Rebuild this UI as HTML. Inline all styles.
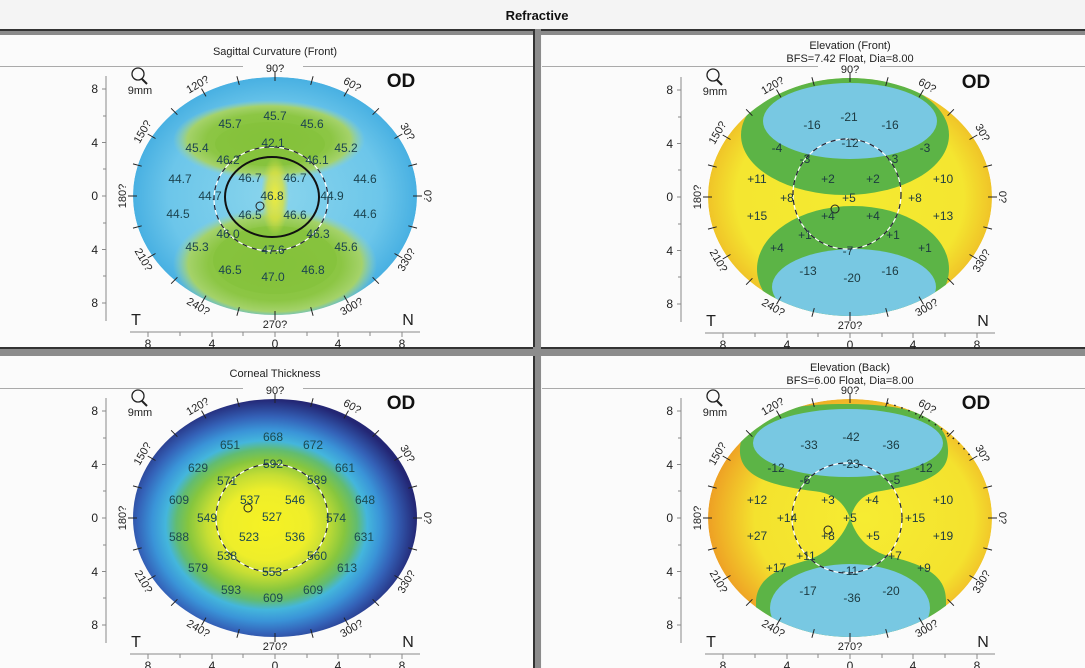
<!DOCTYPE html>
<html><head><meta charset="utf-8"><style>
html,body{margin:0;padding:0;background:#f6f6f6;}
svg{display:block;font-family:"Liberation Sans",sans-serif;}
</style></head><body>
<svg width="1085" height="668" viewBox="0 0 1085 668" xmlns="http://www.w3.org/2000/svg">
<defs>
<clipPath id="ce"><ellipse cx="0" cy="0" rx="142" ry="119"/></clipPath>
<radialGradient id="gSag" cx="0.5" cy="0.5" r="0.5">
<stop offset="0" stop-color="#8ad5ec"/><stop offset="0.75" stop-color="#6cc6ea"/><stop offset="1" stop-color="#48b0e2"/></radialGradient>
<radialGradient id="gLobe" cx="0.5" cy="0.5" r="0.5">
<stop offset="0" stop-color="#84c23a"/><stop offset="0.65" stop-color="#8cc644"/><stop offset="0.85" stop-color="#a4d26a"/><stop offset="1" stop-color="#9ad3b0" stop-opacity="0"/></radialGradient>
<radialGradient id="gYel" cx="0.5" cy="0.5" r="0.5">
<stop offset="0" stop-color="#eeec3c"/><stop offset="0.6" stop-color="#d8e040" stop-opacity="0.8"/><stop offset="1" stop-color="#c8dc48" stop-opacity="0"/></radialGradient>
<radialGradient id="gThk" cx="0.47" cy="0.53" r="0.53">
<stop offset="0" stop-color="#f6f224"/><stop offset="0.28" stop-color="#eeee2a"/><stop offset="0.4" stop-color="#c6de34"/><stop offset="0.52" stop-color="#86c63e"/><stop offset="0.6" stop-color="#62bc70"/><stop offset="0.67" stop-color="#44b6dc"/><stop offset="0.76" stop-color="#3a94d8"/><stop offset="0.86" stop-color="#3462b8"/><stop offset="1" stop-color="#232674"/></radialGradient>
<radialGradient id="gEl" cx="0.5" cy="0.5" r="0.5">
<stop offset="0" stop-color="#f4ea30"/><stop offset="0.8" stop-color="#f4e630"/><stop offset="1" stop-color="#f0c428"/></radialGradient>
<radialGradient id="gEl2" cx="0.55" cy="0.5" r="0.55">
<stop offset="0" stop-color="#f6ec32"/><stop offset="0.7" stop-color="#f4e22e"/><stop offset="1" stop-color="#eea024"/></radialGradient>
</defs>

<rect x="0" y="0" width="1085" height="29" fill="#f4f4f4"/>
<text x="537" y="20" font-size="13" font-weight="bold" text-anchor="middle" fill="#111">Refractive</text>
<rect x="0" y="29" width="1085" height="2" fill="#333"/>
<rect x="0" y="31" width="1085" height="4" fill="#8a8a8a"/>
<rect x="0" y="35" width="533" height="312" fill="#fbfbfb"/>
<rect x="542" y="35" width="543" height="312" fill="#fbfbfb"/>
<rect x="0" y="356" width="533" height="312" fill="#fbfbfb"/>
<rect x="542" y="356" width="543" height="312" fill="#fbfbfb"/>
<rect x="533" y="29" width="2" height="639" fill="#333"/>
<rect x="535" y="29" width="6" height="639" fill="#8c8c8c"/>
<rect x="0" y="347" width="1085" height="2" fill="#333"/>
<rect x="0" y="349" width="1085" height="7" fill="#8c8c8c"/>
<rect x="533" y="347" width="8" height="9" fill="#8c8c8c"/>

<g fill="#222" font-size="11" text-anchor="middle">
<text x="275" y="55">Sagittal Curvature (Front)</text>
<text x="850" y="49">Elevation (Front)</text>
<text x="850" y="62">BFS=7.42 Float, Dia=8.00</text>
<text x="275" y="377">Corneal Thickness</text>
<text x="850" y="371">Elevation (Back)</text>
<text x="850" y="384">BFS=6.00 Float, Dia=8.00</text>
</g>
<g stroke="#aaa" stroke-width="1">
<line x1="0" y1="66.5" x2="243" y2="66.5"/><line x1="303" y1="66.5" x2="533" y2="66.5"/>
<line x1="542" y1="66.5" x2="818" y2="66.5"/><line x1="880" y1="66.5" x2="1085" y2="66.5"/>
<line x1="0" y1="388.5" x2="243" y2="388.5"/><line x1="303" y1="388.5" x2="533" y2="388.5"/>
<line x1="542" y1="388.5" x2="818" y2="388.5"/><line x1="880" y1="388.5" x2="1085" y2="388.5"/>
</g>

<!-- TL -->
<g transform="translate(275,196)">
<g clip-path="url(#ce)">
<ellipse cx="0" cy="0" rx="142" ry="119" fill="url(#gSag)"/>
<ellipse cx="-6" cy="-56" rx="96" ry="40" fill="url(#gLobe)"/>
<ellipse cx="0" cy="68" rx="102" ry="56" fill="url(#gLobe)"/>
<ellipse cx="0" cy="64" rx="62" ry="34" fill="#84c23a" opacity="0.6"/>
<ellipse cx="-5" cy="-52" rx="55" ry="22" fill="#84c23a" opacity="0.6"/>
<ellipse cx="0" cy="0" rx="14" ry="40" fill="url(#gYel)"/>
</g>
<ellipse cx="-4" cy="3" rx="57" ry="52" fill="none" stroke="#fff" stroke-width="1.2"/>
<ellipse cx="-4" cy="3" rx="57" ry="52" fill="none" stroke="#223" stroke-width="1.2" stroke-dasharray="5 5"/>
<ellipse cx="-3" cy="1" rx="47" ry="40" fill="none" stroke="#111" stroke-width="2"/>
<circle cx="-15" cy="10" r="4" fill="none" stroke="#222"/>
<g font-size="12" fill="#1c4450" text-anchor="middle">
<text x="0" y="-76">45.7</text><text x="-45" y="-68">45.7</text><text x="37" y="-68">45.6</text>
<text x="-78" y="-44">45.4</text><text x="-2" y="-49">42.1</text><text x="71" y="-44">45.2</text>
<text x="-47" y="-32">46.2</text><text x="42" y="-32">46.1</text>
<text x="-95" y="-13">44.7</text><text x="-25" y="-14">46.7</text><text x="20" y="-14">46.7</text><text x="90" y="-13">44.6</text>
<text x="-65" y="4">44.7</text><text x="-3" y="4">46.8</text><text x="57" y="4">44.9</text>
<text x="-97" y="22">44.5</text><text x="-25" y="23">46.5</text><text x="20" y="23">46.6</text><text x="90" y="22">44.6</text>
<text x="-47" y="42">46.0</text><text x="43" y="42">46.3</text>
<text x="-78" y="55">45.3</text><text x="-2" y="58">47.6</text><text x="71" y="55">45.6</text>
<text x="-45" y="78">46.5</text><text x="-2" y="85">47.0</text><text x="38" y="78">46.8</text>
</g>
</g>

<!-- TR -->
<g transform="translate(850,197)">
<g clip-path="url(#ce)">
<ellipse cx="0" cy="0" rx="142" ry="119" fill="url(#gEl)"/>
<ellipse cx="-5" cy="-62" rx="104" ry="60" fill="#5cb446"/>
<ellipse cx="0" cy="-76" rx="87" ry="38" fill="#78c8e2"/>
<ellipse cx="3" cy="72" rx="96" ry="63" fill="#5cb446"/>
<ellipse cx="4" cy="90" rx="82" ry="38" fill="#78c8e2"/>
</g>
<ellipse cx="-3" cy="-3" rx="54" ry="55" fill="none" stroke="#fff" stroke-width="1.2"/>
<ellipse cx="-3" cy="-3" rx="54" ry="55" fill="none" stroke="#223" stroke-width="1.2" stroke-dasharray="5 5"/>
<circle cx="-15" cy="12" r="4" fill="none" stroke="#222"/>
<g font-size="12" fill="#1c3a40" text-anchor="middle">
<text x="-1" y="-76">-21</text><text x="-38" y="-68">-16</text><text x="40" y="-68">-16</text>
<text x="-73" y="-45">-4</text><text x="0" y="-50">-12</text><text x="75" y="-45">-3</text>
<text x="-45" y="-34">-3</text><text x="43" y="-34">-3</text>
<text x="-93" y="-14">+11</text><text x="-22" y="-14">+2</text><text x="23" y="-14">+2</text><text x="93" y="-14">+10</text>
<text x="-63" y="5">+8</text><text x="-1" y="5">+5</text><text x="65" y="5">+8</text>
<text x="-93" y="23">+15</text><text x="-22" y="23">+4</text><text x="23" y="23">+4</text><text x="93" y="23">+13</text>
<text x="-45" y="42">+1</text><text x="43" y="42">+1</text>
<text x="-73" y="55">+4</text><text x="-2" y="58">-7</text><text x="75" y="55">+1</text>
<text x="-42" y="78">-13</text><text x="2" y="85">-20</text><text x="40" y="78">-16</text>
</g>
</g>

<!-- BL -->
<g transform="translate(275,518)">
<ellipse cx="0" cy="0" rx="142" ry="119" fill="url(#gThk)"/>
<ellipse cx="-3" cy="0" rx="56" ry="54" fill="none" stroke="#fff" stroke-width="1.2"/>
<ellipse cx="-3" cy="0" rx="56" ry="54" fill="none" stroke="#223" stroke-width="1.2" stroke-dasharray="5 5"/>
<circle cx="-27" cy="-10" r="4" fill="none" stroke="#222"/>
<g font-size="12" fill="#1c4a50" text-anchor="middle">
<text x="-2" y="-77">668</text><text x="-45" y="-69">651</text><text x="38" y="-69">672</text>
<text x="-77" y="-46">629</text><text x="-2" y="-50">592</text><text x="70" y="-46">661</text>
<text x="-48" y="-33">571</text><text x="42" y="-34">589</text>
<text x="-96" y="-14">609</text><text x="-25" y="-14">537</text><text x="20" y="-14">546</text><text x="90" y="-14">648</text>
<text x="-68" y="4">549</text><text x="-3" y="3">527</text><text x="61" y="4">574</text>
<text x="-96" y="23">588</text><text x="-26" y="23">523</text><text x="20" y="23">536</text><text x="89" y="23">631</text>
<text x="-48" y="42">538</text><text x="42" y="42">560</text>
<text x="-77" y="54">579</text><text x="-3" y="58">553</text><text x="72" y="54">613</text>
<text x="-44" y="76">593</text><text x="-2" y="84">609</text><text x="38" y="76">609</text>
</g>
</g>

<!-- BR -->
<g transform="translate(850,518)">
<g clip-path="url(#ce)">
<ellipse cx="0" cy="0" rx="142" ry="119" fill="url(#gEl2)"/>
<path d="M -110,-65 C -112,-102 -70,-114 -5,-114 C 60,-114 100,-102 98,-65 C 97,-38 60,-32 25,-26 C 8,-22 3,-8 0,0 C -3,-8 -10,-22 -30,-26 C -70,-31 -108,-38 -110,-65 Z" fill="#5cb446"/>
<path d="M 0,0 C 4,12 12,30 38,38 C 72,46 96,56 96,82 L 96,130 L -94,130 L -94,82 C -92,60 -72,50 -42,42 C -16,33 -4,12 0,0 Z" fill="#5cb446"/>
<ellipse cx="-2" cy="-75" rx="95" ry="34" fill="#78c8e2"/>
<ellipse cx="0" cy="90" rx="80" ry="44" fill="#78c8e2"/>
</g>
<path d="M 37,-115 Q 90,-100 122,-60" fill="none" stroke="#222" stroke-width="1.5" stroke-dasharray="1.5 6"/>
<ellipse cx="-3" cy="0" rx="55" ry="55" fill="none" stroke="#fff" stroke-width="1.2"/>
<ellipse cx="-3" cy="0" rx="55" ry="55" fill="none" stroke="#223" stroke-width="1.2" stroke-dasharray="5 5"/>
<circle cx="-22" cy="12" r="4" fill="none" stroke="#222"/>
<g font-size="12" fill="#1c3a40" text-anchor="middle">
<text x="1" y="-77">-42</text><text x="-41" y="-69">-33</text><text x="41" y="-69">-36</text>
<text x="-74" y="-46">-12</text><text x="1" y="-50">-23</text><text x="74" y="-46">-12</text>
<text x="-45" y="-34">-6</text><text x="45" y="-34">-5</text>
<text x="-93" y="-14">+12</text><text x="-22" y="-14">+3</text><text x="22" y="-14">+4</text><text x="93" y="-14">+10</text>
<text x="-63" y="4">+14</text><text x="0" y="4">+5</text><text x="65" y="4">+15</text>
<text x="-93" y="22">+27</text><text x="-22" y="22">+8</text><text x="23" y="22">+5</text><text x="93" y="22">+19</text>
<text x="-44" y="42">+11</text><text x="45" y="42">+7</text>
<text x="-74" y="54">+17</text><text x="0" y="57">-11</text><text x="74" y="54">+9</text>
<text x="-42" y="77">-17</text><text x="2" y="84">-36</text><text x="41" y="77">-20</text>
</g>
</g>

<g transform="translate(275,196)">
<path d="M138,0L147,0M133.3,-29.8L142,-32.1M119.5,-57.5L127.3,-62M97.6,-81.3L103.9,-87.7M69,-99.6L73.5,-107.4M35.7,-111.1L38.1,-119.8M0,-115L0,-124M-35.7,-111.1L-38.1,-119.8M-69,-99.6L-73.5,-107.4M-97.6,-81.3L-103.9,-87.7M-119.5,-57.5L-127.3,-62M-133.3,-29.8L-142,-32.1M-138,0L-147,0M-133.3,29.8L-142,32.1M-119.5,57.5L-127.3,62M-97.6,81.3L-103.9,87.7M-69,99.6L-73.5,107.4M-35.7,111.1L-38.1,119.8M0,115L0,124M35.7,111.1L38.1,119.8M69,99.6L73.5,107.4M97.6,81.3L103.9,87.7M119.5,57.5L127.3,62M133.3,29.8L142,32.1" stroke="#222" stroke-width="1"/>
<g font-size="11" fill="#222" text-anchor="middle" dominant-baseline="central">
<text transform="translate(152,0) rotate(90)">0?</text><text transform="translate(132,-64) rotate(60)">30?</text><text transform="translate(77,-111) rotate(30)">60?</text><text transform="translate(0,-127)">90?</text><text transform="translate(-77,-111) rotate(-30)">120?</text><text transform="translate(-132,-64) rotate(-60)">150?</text><text transform="translate(-152,0) rotate(-90)">180?</text><text transform="translate(-132,64) rotate(60)">210?</text><text transform="translate(-77,111) rotate(30)">240?</text><text transform="translate(0,129)">270?</text><text transform="translate(77,111) rotate(-30)">300?</text><text transform="translate(132,64) rotate(-60)">330?</text>
</g>
<g stroke="#888" stroke-width="1"><line x1="-169" y1="-120" x2="-169" y2="125"/><line x1="-173" y1="-107" x2="-169" y2="-107"/><line x1="-172" y1="-80" x2="-169" y2="-80"/><line x1="-173" y1="-53.5" x2="-169" y2="-53.5"/><line x1="-172" y1="-27" x2="-169" y2="-27"/><line x1="-173" y1="0" x2="-169" y2="0"/><line x1="-172" y1="27" x2="-169" y2="27"/><line x1="-173" y1="53.5" x2="-169" y2="53.5"/><line x1="-172" y1="80" x2="-169" y2="80"/><line x1="-173" y1="107" x2="-169" y2="107"/>
<line x1="-145" y1="136" x2="145" y2="136"/><line x1="-127" y1="136" x2="-127" y2="141"/><line x1="-95" y1="136" x2="-95" y2="140"/><line x1="-63" y1="136" x2="-63" y2="141"/><line x1="-32" y1="136" x2="-32" y2="140"/><line x1="0" y1="136" x2="0" y2="141"/><line x1="32" y1="136" x2="32" y2="140"/><line x1="63" y1="136" x2="63" y2="141"/><line x1="95" y1="136" x2="95" y2="140"/><line x1="127" y1="136" x2="127" y2="141"/></g>
<g font-size="12" fill="#222"><text x="-177" y="-103" text-anchor="end">8</text><text x="-177" y="-49" text-anchor="end">4</text><text x="-177" y="4" text-anchor="end">0</text><text x="-177" y="58" text-anchor="end">4</text><text x="-177" y="111" text-anchor="end">8</text>
<g text-anchor="middle"><text x="-127" y="152">8</text><text x="-63" y="152">4</text><text x="0" y="152">0</text><text x="63" y="152">4</text><text x="127" y="152">8</text></g></g>
<text x="-139" y="129" font-size="16" fill="#222" text-anchor="middle">T</text><text x="133" y="129" font-size="16" fill="#222" text-anchor="middle">N</text>
<text x="126" y="-109" font-size="19" font-weight="bold" fill="#111" text-anchor="middle">OD</text>
<circle cx="-137" cy="-122" r="6" fill="none" stroke="#222" stroke-width="1.3"/><line x1="-133" y1="-117" x2="-128" y2="-112" stroke="#222" stroke-width="2"/>
<text x="-135" y="-102" font-size="11" fill="#222" text-anchor="middle">9mm</text>
</g>

<g transform="translate(850,197)">
<path d="M138,0L147,0M133.3,-29.8L142,-32.1M119.5,-57.5L127.3,-62M97.6,-81.3L103.9,-87.7M69,-99.6L73.5,-107.4M35.7,-111.1L38.1,-119.8M0,-115L0,-124M-35.7,-111.1L-38.1,-119.8M-69,-99.6L-73.5,-107.4M-97.6,-81.3L-103.9,-87.7M-119.5,-57.5L-127.3,-62M-133.3,-29.8L-142,-32.1M-138,0L-147,0M-133.3,29.8L-142,32.1M-119.5,57.5L-127.3,62M-97.6,81.3L-103.9,87.7M-69,99.6L-73.5,107.4M-35.7,111.1L-38.1,119.8M0,115L0,124M35.7,111.1L38.1,119.8M69,99.6L73.5,107.4M97.6,81.3L103.9,87.7M119.5,57.5L127.3,62M133.3,29.8L142,32.1" stroke="#222" stroke-width="1"/>
<g font-size="11" fill="#222" text-anchor="middle" dominant-baseline="central">
<text transform="translate(152,0) rotate(90)">0?</text><text transform="translate(132,-64) rotate(60)">30?</text><text transform="translate(77,-111) rotate(30)">60?</text><text transform="translate(0,-127)">90?</text><text transform="translate(-77,-111) rotate(-30)">120?</text><text transform="translate(-132,-64) rotate(-60)">150?</text><text transform="translate(-152,0) rotate(-90)">180?</text><text transform="translate(-132,64) rotate(60)">210?</text><text transform="translate(-77,111) rotate(30)">240?</text><text transform="translate(0,129)">270?</text><text transform="translate(77,111) rotate(-30)">300?</text><text transform="translate(132,64) rotate(-60)">330?</text>
</g>
<g stroke="#888" stroke-width="1"><line x1="-169" y1="-120" x2="-169" y2="125"/><line x1="-173" y1="-107" x2="-169" y2="-107"/><line x1="-172" y1="-80" x2="-169" y2="-80"/><line x1="-173" y1="-53.5" x2="-169" y2="-53.5"/><line x1="-172" y1="-27" x2="-169" y2="-27"/><line x1="-173" y1="0" x2="-169" y2="0"/><line x1="-172" y1="27" x2="-169" y2="27"/><line x1="-173" y1="53.5" x2="-169" y2="53.5"/><line x1="-172" y1="80" x2="-169" y2="80"/><line x1="-173" y1="107" x2="-169" y2="107"/>
<line x1="-145" y1="136" x2="145" y2="136"/><line x1="-127" y1="136" x2="-127" y2="141"/><line x1="-95" y1="136" x2="-95" y2="140"/><line x1="-63" y1="136" x2="-63" y2="141"/><line x1="-32" y1="136" x2="-32" y2="140"/><line x1="0" y1="136" x2="0" y2="141"/><line x1="32" y1="136" x2="32" y2="140"/><line x1="63" y1="136" x2="63" y2="141"/><line x1="95" y1="136" x2="95" y2="140"/><line x1="127" y1="136" x2="127" y2="141"/></g>
<g font-size="12" fill="#222"><text x="-177" y="-103" text-anchor="end">8</text><text x="-177" y="-49" text-anchor="end">4</text><text x="-177" y="4" text-anchor="end">0</text><text x="-177" y="58" text-anchor="end">4</text><text x="-177" y="111" text-anchor="end">8</text>
<g text-anchor="middle"><text x="-127" y="152">8</text><text x="-63" y="152">4</text><text x="0" y="152">0</text><text x="63" y="152">4</text><text x="127" y="152">8</text></g></g>
<text x="-139" y="129" font-size="16" fill="#222" text-anchor="middle">T</text><text x="133" y="129" font-size="16" fill="#222" text-anchor="middle">N</text>
<text x="126" y="-109" font-size="19" font-weight="bold" fill="#111" text-anchor="middle">OD</text>
<circle cx="-137" cy="-122" r="6" fill="none" stroke="#222" stroke-width="1.3"/><line x1="-133" y1="-117" x2="-128" y2="-112" stroke="#222" stroke-width="2"/>
<text x="-135" y="-102" font-size="11" fill="#222" text-anchor="middle">9mm</text>
</g>

<g transform="translate(275,518)">
<path d="M138,0L147,0M133.3,-29.8L142,-32.1M119.5,-57.5L127.3,-62M97.6,-81.3L103.9,-87.7M69,-99.6L73.5,-107.4M35.7,-111.1L38.1,-119.8M0,-115L0,-124M-35.7,-111.1L-38.1,-119.8M-69,-99.6L-73.5,-107.4M-97.6,-81.3L-103.9,-87.7M-119.5,-57.5L-127.3,-62M-133.3,-29.8L-142,-32.1M-138,0L-147,0M-133.3,29.8L-142,32.1M-119.5,57.5L-127.3,62M-97.6,81.3L-103.9,87.7M-69,99.6L-73.5,107.4M-35.7,111.1L-38.1,119.8M0,115L0,124M35.7,111.1L38.1,119.8M69,99.6L73.5,107.4M97.6,81.3L103.9,87.7M119.5,57.5L127.3,62M133.3,29.8L142,32.1" stroke="#222" stroke-width="1"/>
<g font-size="11" fill="#222" text-anchor="middle" dominant-baseline="central">
<text transform="translate(152,0) rotate(90)">0?</text><text transform="translate(132,-64) rotate(60)">30?</text><text transform="translate(77,-111) rotate(30)">60?</text><text transform="translate(0,-127)">90?</text><text transform="translate(-77,-111) rotate(-30)">120?</text><text transform="translate(-132,-64) rotate(-60)">150?</text><text transform="translate(-152,0) rotate(-90)">180?</text><text transform="translate(-132,64) rotate(60)">210?</text><text transform="translate(-77,111) rotate(30)">240?</text><text transform="translate(0,129)">270?</text><text transform="translate(77,111) rotate(-30)">300?</text><text transform="translate(132,64) rotate(-60)">330?</text>
</g>
<g stroke="#888" stroke-width="1"><line x1="-169" y1="-120" x2="-169" y2="125"/><line x1="-173" y1="-107" x2="-169" y2="-107"/><line x1="-172" y1="-80" x2="-169" y2="-80"/><line x1="-173" y1="-53.5" x2="-169" y2="-53.5"/><line x1="-172" y1="-27" x2="-169" y2="-27"/><line x1="-173" y1="0" x2="-169" y2="0"/><line x1="-172" y1="27" x2="-169" y2="27"/><line x1="-173" y1="53.5" x2="-169" y2="53.5"/><line x1="-172" y1="80" x2="-169" y2="80"/><line x1="-173" y1="107" x2="-169" y2="107"/>
<line x1="-145" y1="136" x2="145" y2="136"/><line x1="-127" y1="136" x2="-127" y2="141"/><line x1="-95" y1="136" x2="-95" y2="140"/><line x1="-63" y1="136" x2="-63" y2="141"/><line x1="-32" y1="136" x2="-32" y2="140"/><line x1="0" y1="136" x2="0" y2="141"/><line x1="32" y1="136" x2="32" y2="140"/><line x1="63" y1="136" x2="63" y2="141"/><line x1="95" y1="136" x2="95" y2="140"/><line x1="127" y1="136" x2="127" y2="141"/></g>
<g font-size="12" fill="#222"><text x="-177" y="-103" text-anchor="end">8</text><text x="-177" y="-49" text-anchor="end">4</text><text x="-177" y="4" text-anchor="end">0</text><text x="-177" y="58" text-anchor="end">4</text><text x="-177" y="111" text-anchor="end">8</text>
<g text-anchor="middle"><text x="-127" y="152">8</text><text x="-63" y="152">4</text><text x="0" y="152">0</text><text x="63" y="152">4</text><text x="127" y="152">8</text></g></g>
<text x="-139" y="129" font-size="16" fill="#222" text-anchor="middle">T</text><text x="133" y="129" font-size="16" fill="#222" text-anchor="middle">N</text>
<text x="126" y="-109" font-size="19" font-weight="bold" fill="#111" text-anchor="middle">OD</text>
<circle cx="-137" cy="-122" r="6" fill="none" stroke="#222" stroke-width="1.3"/><line x1="-133" y1="-117" x2="-128" y2="-112" stroke="#222" stroke-width="2"/>
<text x="-135" y="-102" font-size="11" fill="#222" text-anchor="middle">9mm</text>
</g>

<g transform="translate(850,518)">
<path d="M138,0L147,0M133.3,-29.8L142,-32.1M119.5,-57.5L127.3,-62M97.6,-81.3L103.9,-87.7M69,-99.6L73.5,-107.4M35.7,-111.1L38.1,-119.8M0,-115L0,-124M-35.7,-111.1L-38.1,-119.8M-69,-99.6L-73.5,-107.4M-97.6,-81.3L-103.9,-87.7M-119.5,-57.5L-127.3,-62M-133.3,-29.8L-142,-32.1M-138,0L-147,0M-133.3,29.8L-142,32.1M-119.5,57.5L-127.3,62M-97.6,81.3L-103.9,87.7M-69,99.6L-73.5,107.4M-35.7,111.1L-38.1,119.8M0,115L0,124M35.7,111.1L38.1,119.8M69,99.6L73.5,107.4M97.6,81.3L103.9,87.7M119.5,57.5L127.3,62M133.3,29.8L142,32.1" stroke="#222" stroke-width="1"/>
<g font-size="11" fill="#222" text-anchor="middle" dominant-baseline="central">
<text transform="translate(152,0) rotate(90)">0?</text><text transform="translate(132,-64) rotate(60)">30?</text><text transform="translate(77,-111) rotate(30)">60?</text><text transform="translate(0,-127)">90?</text><text transform="translate(-77,-111) rotate(-30)">120?</text><text transform="translate(-132,-64) rotate(-60)">150?</text><text transform="translate(-152,0) rotate(-90)">180?</text><text transform="translate(-132,64) rotate(60)">210?</text><text transform="translate(-77,111) rotate(30)">240?</text><text transform="translate(0,129)">270?</text><text transform="translate(77,111) rotate(-30)">300?</text><text transform="translate(132,64) rotate(-60)">330?</text>
</g>
<g stroke="#888" stroke-width="1"><line x1="-169" y1="-120" x2="-169" y2="125"/><line x1="-173" y1="-107" x2="-169" y2="-107"/><line x1="-172" y1="-80" x2="-169" y2="-80"/><line x1="-173" y1="-53.5" x2="-169" y2="-53.5"/><line x1="-172" y1="-27" x2="-169" y2="-27"/><line x1="-173" y1="0" x2="-169" y2="0"/><line x1="-172" y1="27" x2="-169" y2="27"/><line x1="-173" y1="53.5" x2="-169" y2="53.5"/><line x1="-172" y1="80" x2="-169" y2="80"/><line x1="-173" y1="107" x2="-169" y2="107"/>
<line x1="-145" y1="136" x2="145" y2="136"/><line x1="-127" y1="136" x2="-127" y2="141"/><line x1="-95" y1="136" x2="-95" y2="140"/><line x1="-63" y1="136" x2="-63" y2="141"/><line x1="-32" y1="136" x2="-32" y2="140"/><line x1="0" y1="136" x2="0" y2="141"/><line x1="32" y1="136" x2="32" y2="140"/><line x1="63" y1="136" x2="63" y2="141"/><line x1="95" y1="136" x2="95" y2="140"/><line x1="127" y1="136" x2="127" y2="141"/></g>
<g font-size="12" fill="#222"><text x="-177" y="-103" text-anchor="end">8</text><text x="-177" y="-49" text-anchor="end">4</text><text x="-177" y="4" text-anchor="end">0</text><text x="-177" y="58" text-anchor="end">4</text><text x="-177" y="111" text-anchor="end">8</text>
<g text-anchor="middle"><text x="-127" y="152">8</text><text x="-63" y="152">4</text><text x="0" y="152">0</text><text x="63" y="152">4</text><text x="127" y="152">8</text></g></g>
<text x="-139" y="129" font-size="16" fill="#222" text-anchor="middle">T</text><text x="133" y="129" font-size="16" fill="#222" text-anchor="middle">N</text>
<text x="126" y="-109" font-size="19" font-weight="bold" fill="#111" text-anchor="middle">OD</text>
<circle cx="-137" cy="-122" r="6" fill="none" stroke="#222" stroke-width="1.3"/><line x1="-133" y1="-117" x2="-128" y2="-112" stroke="#222" stroke-width="2"/>
<text x="-135" y="-102" font-size="11" fill="#222" text-anchor="middle">9mm</text>
</g>
</svg>
</body></html>
